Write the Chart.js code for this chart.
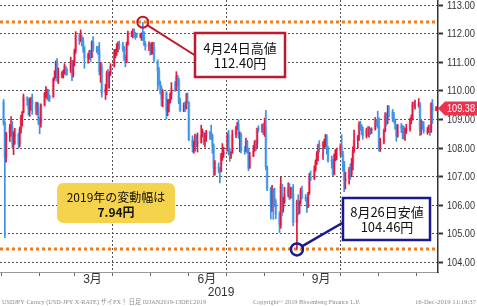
<!DOCTYPE html>
<html>
<head>
<meta charset="utf-8">
<script src="https://cdn.jsdelivr.net/npm/chart.js@4.4.1/dist/chart.umd.min.js"></script>
<style>
  html, body { margin: 0; padding: 0; background: #fff; }
  canvas { display: block; }
</style>
</head>
<body>
<canvas id="fx" width="477" height="306"></canvas>
<script>
// USDJPY daily candles, 02 Jan 2019 - 16 Dec 2019 (one row per week)
var firstOpen = 109.61;
var closes = [
  108.88, 107.68, 108.52,
  108.71, 108.74, 108.16, 108.42, 108.48,
  108.16, 108.67, 109.07, 109.25, 109.78,
  109.66, 109.37, 109.60, 109.65, 109.55,
  109.36, 109.38, 108.94, 108.88, 109.51,
  109.90, 109.95, 109.96, 109.81, 109.74,
  110.40, 110.48, 111.01, 110.47, 110.49,
  110.62, 110.63, 110.86, 110.71, 110.70,
  111.03, 110.55, 111.00, 111.39, 111.93,
  111.75, 111.89, 111.75, 111.60, 111.16,
  111.22, 111.38, 111.17, 111.71, 111.47,
  111.42, 111.40, 110.68, 110.82, 109.93,
  110.07, 110.61, 110.51, 110.62, 110.86,
  111.35, 111.35, 111.49, 111.63, 111.58,
  111.48, 111.15, 111.00, 111.63, 112.01,
  112.02, 112.04, 112.00, 111.97, 111.91,
  111.93, 111.94, 111.89, 111.63, 111.55,
  111.64, 111.41, 111.46, 111.53, 111.10,
  110.70, 110.27, 110.09, 109.72, 109.95,
  109.30, 109.59, 109.60, 109.88, 110.07,
  110.05, 110.52, 110.37, 109.61, 109.29,
  109.49, 109.36, 109.61, 109.60, 108.29,
  108.08, 108.16, 108.40, 108.16, 108.19,
  108.45, 108.51, 108.37, 108.37, 108.57,
  108.55, 108.44, 108.09, 107.29, 107.32,
  107.30, 107.18, 107.76, 107.80, 107.85,
  108.46, 107.88, 107.80, 107.80, 108.47,
  108.71, 108.84, 108.44, 108.47, 107.91,
  107.90, 108.23, 107.95, 107.31, 107.72,
  107.90, 108.23, 108.17, 108.69, 108.67,
  108.77, 108.62, 108.73, 107.35, 106.59,
  105.95, 106.47, 106.27, 106.08, 105.69,
  105.31, 106.72, 105.91, 106.12, 106.37,
  106.61, 106.25, 106.60, 106.42, 105.40,
  106.13, 105.74, 106.12, 106.53, 106.27,
  106.24, 105.96, 106.43, 106.99, 106.93,
  107.25, 107.55, 107.80, 108.09, 108.08,
  108.14, 108.14, 108.44, 107.97, 107.57,
  107.53, 107.06, 107.75, 107.92, 107.94,
  108.08, 107.77, 107.49, 106.86, 106.92,
  107.25, 107.09, 107.48, 107.90, 108.28,
  108.38, 108.85, 108.76, 108.65, 108.42,
  108.64, 108.49, 108.68, 108.62, 108.66,
  108.97, 108.87, 108.79, 108.00, 108.20,
  108.60, 109.15, 108.98, 109.27, 109.26,
  109.05, 109.00, 108.80, 108.42, 108.78,
  108.70, 108.63, 108.55, 108.62, 108.67,
  108.96, 109.02, 109.52, 109.50, 109.50,
  109.55, 108.63, 108.89, 108.74, 108.58,
  108.60, 108.74, 108.58, 109.54, 109.30,
  109.38
];
var highs = [
  109.70, 108.94, 108.55,
  108.83, 109.10, 108.93, 108.57, 108.69,
  108.53, 108.73, 109.15, 109.28, 109.89,
  109.79, 109.72, 109.75, 109.77, 109.89,
  109.60, 109.61, 109.57, 109.08, 109.55,
  109.95, 110.15, 110.06, 110.05, 109.85,
  110.45, 110.70, 111.05, 111.13, 110.80,
  110.67, 110.73, 110.95, 110.86, 110.78,
  111.18, 111.07, 111.06, 111.46, 112.07,
  112.01, 112.13, 111.93, 111.85, 111.53,
  111.31, 111.42, 111.42, 111.75, 111.90,
  111.56, 111.56, 111.69, 110.99, 110.95,
  110.23, 110.69, 110.75, 110.67, 110.95,
  111.45, 111.45, 111.65, 111.71, 111.74,
  111.70, 111.55, 111.24, 111.70, 112.09,
  112.09, 112.17, 112.17, 112.05, 112.00,
  112.01, 112.03, 112.40, 112.07, 111.72,
  111.71, 111.64, 111.69, 111.70, 111.70,
  111.05, 110.81, 110.34, 110.18, 110.04,
  109.97, 109.70, 109.70, 109.93, 110.29,
  110.32, 110.67, 110.55, 110.44, 109.74,
  109.58, 109.62, 109.91, 109.93, 109.62,
  108.43, 108.25, 108.49, 108.46, 108.53,
  108.80, 108.67, 108.57, 108.52, 108.62,
  108.58, 108.80, 108.49, 108.15, 107.56,
  107.48, 107.32, 107.82, 108.16, 108.03,
  108.53, 108.62, 107.98, 107.87, 108.63,
  108.76, 108.91, 108.99, 108.57, 108.53,
  108.06, 108.35, 108.27, 107.99, 107.85,
  108.10, 108.26, 108.28, 108.70, 108.78,
  108.84, 108.86, 109.05, 109.32, 107.37,
  106.63, 106.70, 106.58, 106.60, 106.20,
  105.78, 106.98, 106.74, 106.28, 106.63,
  106.79, 106.76, 106.63, 106.64, 106.73,
  106.18, 106.37, 106.16, 106.60, 106.67,
  106.38, 106.29, 106.45, 107.12, 107.20,
  107.38, 107.59, 107.88, 108.14, 108.26,
  108.23, 108.31, 108.48, 108.47, 108.06,
  107.72, 107.61, 107.80, 107.95, 108.00,
  108.15, 108.47, 107.89, 107.54, 107.16,
  107.33, 107.45, 107.64, 108.04, 108.63,
  108.44, 108.92, 108.94, 108.82, 108.74,
  108.70, 108.75, 108.75, 108.70, 108.71,
  109.07, 109.00, 109.29, 109.07, 108.34,
  108.66, 109.24, 109.21, 109.49, 109.48,
  109.35, 109.25, 109.01, 108.81, 108.83,
  108.86, 108.79, 108.76, 108.70, 108.83,
  109.05, 109.16, 109.61, 109.61, 109.68,
  109.73, 109.60, 108.97, 108.94, 108.92,
  108.72, 108.80, 108.80, 109.59, 109.70,
  109.45
];
var lows = [
  108.80, 104.87, 107.51,
  108.23, 108.41, 108.02, 107.77, 108.13,
  107.99, 108.05, 108.52, 108.77, 109.23,
  109.49, 109.15, 109.11, 109.32, 109.18,
  109.18, 109.16, 108.82, 108.50, 108.73,
  109.47, 109.76, 109.71, 109.64, 109.63,
  109.79, 110.35, 110.45, 110.33, 110.25,
  110.45, 110.45, 110.58, 110.55, 110.55,
  110.64, 110.36, 110.48, 110.87, 111.31,
  111.62, 111.72, 111.56, 111.35, 110.79,
  110.97, 111.10, 111.02, 111.16, 111.38,
  111.34, 111.27, 110.56, 110.30, 109.78,
  109.70, 109.86, 110.11, 110.09, 110.54,
  110.83, 111.15, 111.24, 111.36, 111.45,
  111.38, 111.06, 110.84, 110.98, 111.60,
  111.89, 111.85, 111.88, 111.80, 111.86,
  111.85, 111.76, 111.77, 111.59, 111.42,
  111.40, 111.25, 111.27, 111.29, 111.01,
  110.03, 110.19, 109.89, 109.47, 109.44,
  109.02, 109.13, 109.26, 109.57, 109.71,
  109.98, 110.03, 110.16, 109.55, 109.28,
  109.27, 109.28, 109.37, 109.57, 108.26,
  107.86, 107.82, 107.89, 108.05, 107.86,
  108.17, 108.39, 108.12, 108.03, 108.23,
  108.30, 108.29, 107.82, 107.04, 107.05,
  107.14, 106.78, 107.17, 107.57, 107.67,
  107.90, 107.76, 107.54, 107.64, 107.82,
  108.36, 108.64, 108.34, 107.87, 107.83,
  107.78, 107.87, 107.82, 107.21, 107.29,
  107.70, 107.89, 107.92, 107.98, 108.56,
  108.55, 108.47, 108.41, 107.25, 106.51,
  105.52, 105.79, 105.51, 105.95, 105.53,
  105.05, 105.20, 105.64, 105.76, 106.07,
  106.29, 106.20, 106.25, 106.26, 105.28,
  104.46, 105.66, 105.70, 106.04, 106.23,
  106.15, 105.75, 105.92, 106.38, 106.86,
  106.90, 107.19, 107.42, 107.56, 107.86,
  107.60, 108.01, 108.04, 107.79, 107.51,
  107.30, 107.03, 107.08, 107.55, 107.59,
  107.74, 107.70, 107.19, 106.48, 106.57,
  106.74, 106.91, 107.00, 107.24, 107.85,
  107.99, 108.27, 108.62, 108.47, 108.31,
  108.35, 108.42, 108.38, 108.47, 108.51,
  108.63, 108.77, 108.70, 107.89, 107.88,
  108.15, 108.57, 108.78, 108.85, 109.08,
  108.93, 108.90, 108.66, 108.24, 108.38,
  108.54, 108.33, 108.31, 108.27, 108.51,
  108.59, 108.85, 108.98, 109.42, 109.36,
  109.43, 108.43, 108.47, 108.67, 108.52,
  108.48, 108.54, 108.44, 108.55, 108.86,
  109.31
];

// axis ticks (x = day of year)
var monthEdges = [0, 31, 59, 90, 120, 151, 181, 212, 243, 273, 304, 334];
var quarterLines = [90, 181, 273];
var monthLabelDays = [73.5, 165.5, 257.5];
var monthLabelText = ['3月', '6月', '9月'];
var yearLabelDay = 177;
var yearLabelText = '2019';
var yMajorTicks = [104, 105, 106, 107, 108, 109, 110, 111, 112, 113];
var yMinorTicks = [104.5, 105.5, 106.5, 107.5, 108.5, 109.5, 110.5, 111.5, 112.5];

var lastPrice = 109.38;

// trading days: weekdays 2 Jan .. 16 Dec
var tradeDays = [];
var jan1 = Date.UTC(2019, 0, 1);
for (var t = Date.UTC(2019, 0, 2); t <= Date.UTC(2019, 11, 16); t += 86400000) {
    var wd = new Date(t).getUTCDay();
    if (wd === 0 || wd === 6) continue;
    tradeDays.push((t - jan1) / 86400000 + 1);
}
if (tradeDays.length !== closes.length) {
    console.error("day count mismatch", tradeDays.length, closes.length);
}

var opens = closes.map(function (c, i) { return i === 0 ? firstOpen : closes[i - 1]; });

var wicks = tradeDays.map(function (d, i) { return { x: d, y: [lows[i], highs[i]] }; });
var bodies = tradeDays.map(function (d, i) { return { x: d, y: [opens[i], closes[i]] }; });

function isUp(i) { return closes[i] >= opens[i]; }

var hiIdx = highs.indexOf(Math.max.apply(null, highs));
var loIdx = lows.indexOf(Math.min.apply(null, lows));

var LABEL_FONT = "'Liberation Sans', 'Noto Sans CJK JP', sans-serif";
var JP_FONT = "'Noto Sans CJK JP', sans-serif";

function roundRect(ctx, x, y, w, h, r) {
    ctx.beginPath();
    ctx.moveTo(x + r, y);
    ctx.lineTo(x + w - r, y);
    ctx.quadraticCurveTo(x + w, y, x + w, y + r);
    ctx.lineTo(x + w, y + h - r);
    ctx.quadraticCurveTo(x + w, y + h, x + w - r, y + h);
    ctx.lineTo(x + r, y + h);
    ctx.quadraticCurveTo(x, y + h, x, y + h - r);
    ctx.lineTo(x, y + r);
    ctx.quadraticCurveTo(x, y, x + r, y);
    ctx.closePath();
}

var notes = {
    id: 'notes',
    beforeDatasetsDraw: function (chart) {
        var ctx = chart.ctx, a = chart.chartArea, ys = chart.scales.y;
        ctx.save();
        ctx.strokeStyle = '#f07d1e';
        ctx.lineWidth = 3;
        ctx.setLineDash([3, 3]);
        [highs[hiIdx], lows[loIdx]].forEach(function (v) {
            var py = Math.round(ys.getPixelForValue(v));
            ctx.beginPath();
            ctx.moveTo(a.left, py);
            ctx.lineTo(a.right, py);
            ctx.stroke();
        });
        ctx.restore();
    },
    afterDatasetsDraw: function (chart) {
        var ctx = chart.ctx, xs = chart.scales.x, ys = chart.scales.y;
        var hx = xs.getPixelForValue(tradeDays[hiIdx]), hy = ys.getPixelForValue(highs[hiIdx]);
        var lx = xs.getPixelForValue(tradeDays[loIdx]), ly = ys.getPixelForValue(lows[loIdx]);
        ctx.save();

        // high marker
        ctx.strokeStyle = '#c0182c';
        ctx.lineWidth = 2;
        ctx.beginPath();
        ctx.arc(hx, hy, 5.5, 0, Math.PI * 2);
        ctx.stroke();
        ctx.beginPath();
        ctx.moveTo(hx + 4.5, hy + 3);
        ctx.lineTo(196, 56);
        ctx.stroke();
        ctx.fillStyle = '#fff';
        ctx.lineWidth = 2.5;
        ctx.fillRect(195, 33, 90, 44);
        ctx.strokeRect(195, 33, 90, 44);

        // low marker
        ctx.strokeStyle = '#1a1a8c';
        ctx.lineWidth = 2.5;
        ctx.beginPath();
        ctx.arc(lx, ly, 6, 0, Math.PI * 2);
        ctx.stroke();
        ctx.beginPath();
        ctx.moveTo(lx + 5, ly - 3);
        ctx.lineTo(344, 222);
        ctx.stroke();
        ctx.fillRect(343, 198, 87, 42);
        ctx.strokeRect(343, 198, 87, 42);

        // yellow range box
        ctx.fillStyle = '#f5d34c';
        roundRect(ctx, 57, 183, 118, 40, 7);
        ctx.fill();

        ctx.fillStyle = '#111';
        ctx.textAlign = 'center';
        ctx.textBaseline = 'middle';
        ctx.font = '13px ' + JP_FONT;
        ctx.fillText('4月24日高値', 240, 48);
        ctx.fillText(highs[hiIdx].toFixed(2) + '円', 240, 63);
        ctx.fillText('8月26日安値', 387, 212);
        ctx.fillText(lows[loIdx].toFixed(2) + '円', 387, 227);
        ctx.font = '12px ' + JP_FONT;
        ctx.fillText('2019年の変動幅は', 116, 197);
        ctx.font = 'bold 12px ' + JP_FONT;
        ctx.fillText((highs[hiIdx] - lows[loIdx]).toFixed(2) + '円', 116, 212);
        ctx.restore();
    },
    afterDraw: function (chart) {
        var ctx = chart.ctx, a = chart.chartArea, ys = chart.scales.y;
        ctx.save();
        // price axis labels (narrow, like the terminal font)
        ctx.fillStyle = '#333';
        ctx.font = '11px ' + LABEL_FONT;
        ctx.textBaseline = 'middle';
        ctx.textAlign = 'left';
        yMajorTicks.forEach(function (v) {
            ctx.fillText(v.toFixed(2), a.right + 9, ys.getPixelForValue(v) + 0.5, 28);
        });

        // last price tag
        var yc = ys.getPixelForValue(lastPrice);
        ctx.fillStyle = '#e8354f';
        ctx.beginPath();
        ctx.moveTo(a.right, yc);
        ctx.lineTo(a.right + 7, yc - 7);
        ctx.lineTo(477, yc - 7);
        ctx.lineTo(477, yc + 7);
        ctx.lineTo(a.right + 7, yc + 7);
        ctx.closePath();
        ctx.fill();
        ctx.fillStyle = '#fff';
        ctx.fillText(lastPrice.toFixed(2), a.right + 9, yc + 0.5, 28);

        // footer
        ctx.fillStyle = '#8a8a8a';
        ctx.font = "7px 'Liberation Serif', 'Noto Sans CJK JP', serif";
        ctx.fillText('USDJPY Curncy (USD-JPY X-RATE) ザイFX！ 日足 02JAN2019-13DEC2019', 2, 302, 204);
        ctx.fillText('Copyright© 2019 Bloomberg Finance L.P.', 253, 302, 107);
        ctx.textAlign = 'right';
        ctx.fillText('16-Dec-2019 11:19:37', 476, 302, 61);
        ctx.restore();
    }
};

var xLabelAt = {};
monthLabelDays.forEach(function (d, i) { xLabelAt[d] = monthLabelText[i]; });
xLabelAt[yearLabelDay] = ['', yearLabelText];

new Chart(document.getElementById('fx'), {
    type: 'bar',
    data: {
        datasets: [
            {
                label: 'wick',
                data: wicks,
                barThickness: 1,
                grouped: false,
                order: 0,
                backgroundColor: function (c) { return isUp(c.dataIndex) ? '#e0173f' : '#3d91e6'; }
            },
            {
                label: 'body',
                data: bodies,
                barThickness: 2.4,
                grouped: false,
                order: 1,
                backgroundColor: function (c) {
                    return isUp(c.dataIndex) ? 'rgba(238,90,120,0.45)' : 'rgba(110,175,240,0.5)';
                }
            }
        ]
    },
    options: {
        responsive: false,
        animation: false,
        devicePixelRatio: 1,
        layout: { padding: 0 },
        plugins: { legend: { display: false }, tooltip: { enabled: false } },
        scales: {
            x: {
                type: 'linear',
                min: -0.9,
                max: 351.5,
                offset: false,
                afterBuildTicks: function (s) {
                    var list = monthEdges.concat(monthLabelDays, [yearLabelDay]);
                    s.ticks = list.map(function (v) { return { value: v }; });
                },
                afterFit: function (s) { s.height = 34; s.paddingLeft = 0; s.paddingRight = 0; },
                ticks: {
                    autoSkip: false,
                    maxRotation: 0,
                    padding: -3,
                    color: '#333',
                    font: { family: LABEL_FONT, size: 12, lineHeight: 1.1 },
                    callback: function (v) { return xLabelAt[v] !== undefined ? xLabelAt[v] : ''; }
                },
                grid: {
                    offset: false,
                    tickLength: 4,
                    lineWidth: 1,
                    color: function (c) {
                        return c.tick && quarterLines.indexOf(c.tick.value) >= 0 ? '#555' : 'rgba(0,0,0,0)';
                    },
                    tickColor: function (c) {
                        return c.tick && monthEdges.indexOf(c.tick.value) >= 0 ? '#666' : 'rgba(0,0,0,0)';
                    }
                },
                border: { color: '#999', width: 1, dash: [2, 2] }
            },
            y: {
                position: 'right',
                min: 103.67,
                max: 113.175,
                afterBuildTicks: function (s) {
                    var list = yMajorTicks.concat(yMinorTicks).sort(function (a, b) { return a - b; });
                    s.ticks = list.map(function (v) { return { value: v }; });
                },
                afterFit: function (s) { s.width = 39; s.paddingTop = 0; s.paddingBottom = 0; },
                ticks: {
                    padding: 3,
                    callback: function () { return ''; }
                },
                grid: {
                    tickLength: 5,
                    lineWidth: 1,
                    color: function (c) {
                        return c.tick && c.tick.value % 1 === 0 ? '#555' : 'rgba(0,0,0,0)';
                    },
                    tickColor: '#333',
                    tickWidth: function (c) { return c.tick && c.tick.value % 1 === 0 ? 2 : 1; }
                },
                border: { color: '#333', width: 1.5, dash: [2, 2] }
            }
        }
    },
    plugins: [notes]
});
</script>
</body>
</html>
